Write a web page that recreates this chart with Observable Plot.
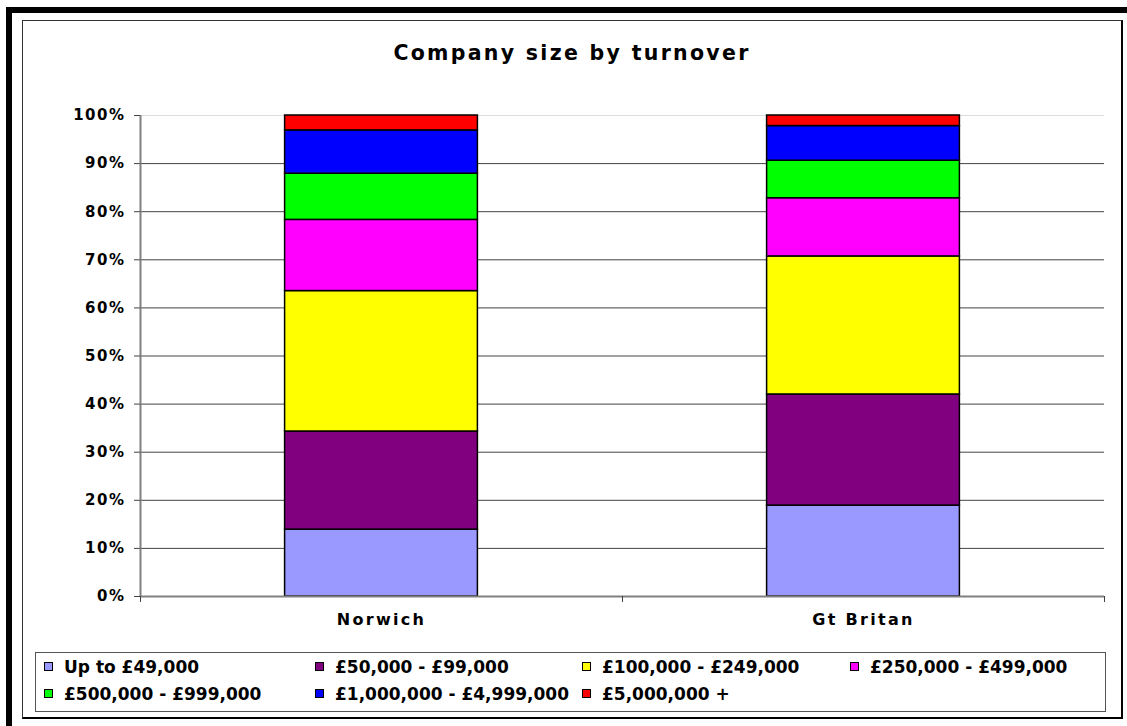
<!DOCTYPE html>
<html>
<head>
<meta charset="utf-8">
<script src="https://cdn.jsdelivr.net/npm/d3@7"></script>
<script src="https://cdn.jsdelivr.net/npm/@observablehq/plot@0.6"></script>
<style>
  body { margin: 0; background: #fff; width: 1127px; height: 726px; overflow: hidden; position: relative;
         font-family: "DejaVu Sans", sans-serif; font-weight: bold; color: #000; }
  #thick { position: absolute; left: 6px; top: 7px; width: 1300px; height: 900px;
           border-top: 6px solid #000; border-left: 6px solid #000; }
  #frame { position: absolute; left: 22px; top: 20px; width: 1098px; height: 696px;
           border: 1px solid #333; border-right: 2px solid #000; border-bottom: 2px solid #000; background: #fff; }
  #title { position: absolute; left: 22px; width: 1100px; top: 41px; line-height: 24px; text-align: center;
           font-size: 20.5px; letter-spacing: 2.3px; }
  #chart { position: absolute; left: 0; top: 0; }
  #legend { position: absolute; left: 35px; top: 652px; width: 1061px; height: 58px; border: 1px solid #555;
            padding-left: 8px; display: grid; grid-template-columns: 271px 267px 268px 268px;
            grid-auto-rows: 27px; font-size: 17px; }
  .item { display: flex; align-items: center; white-space: nowrap; }
  .sw { width: 7px; height: 7px; border: 1px solid #000; margin-right: 11px; flex: none; }
  g[aria-label="y-axis tick label"] text { letter-spacing: 1.5px; }
  g[aria-label="x-axis tick label"] text { letter-spacing: 2.3px; }
</style>
</head>
<body>
<div id="thick"></div>
<div id="frame"></div>
<div id="title">Company size by turnover</div>
<div id="chart"></div>
<div id="legend"></div>
<script>
const categories = ["Norwich", "Gt Britan"];
const bands = ["Up to £49,000", "£50,000 - £99,000", "£100,000 - £249,000", "£250,000 - £499,000",
               "£500,000 - £999,000", "£1,000,000 - £4,999,000", "£5,000,000 +"];
const colors = ["#9999FF", "#800080", "#FFFF00", "#FF00FF", "#00FF00", "#0000FF", "#FF0000"];
const norwich = [13.9, 20.4, 29.2, 14.8, 9.6, 9.0, 3.1];
const gtBritan = [18.9, 23.1, 28.7, 12.1, 7.8, 7.2, 2.2];
const yTicks = [0, 10, 20, 30, 40, 50, 60, 70, 80, 90, 100];

const series = [norwich, gtBritan];
const barInset = 0.3; // fraction of category slot left empty on each side

const rows = [];
series.forEach((vals, i) => {
  const cum = d3.cumsum(vals);
  vals.forEach((v, j) => {
    rows.push({place: categories[i], band: bands[j], i, y1: cum[j] - v, y2: cum[j]});
  });
});

const chart = Plot.plot({
  width: 1127,
  height: 640,
  marginLeft: 140,
  marginRight: 23,
  marginTop: 115,
  marginBottom: 44,
  x: {domain: [0, categories.length]},
  y: {domain: [0, 100]},
  color: {domain: bands, range: colors},
  style: {fontFamily: "DejaVu Sans", fontWeight: "bold", background: "transparent", color: "#000", overflow: "visible"},
  marks: [
    Plot.ruleY(yTicks.filter(t => t > 0 && t < 100), {stroke: "#444", strokeWidth: 1}),
    Plot.ruleY([100], {stroke: "#ddd", strokeWidth: 1}),
    Plot.rectY(rows, {
      x1: d => d.i + barInset, x2: d => d.i + 1 - barInset,
      y1: "y1", y2: "y2", fill: "band", stroke: "#000", strokeWidth: 1.5
    }),
    Plot.ruleX([0], {stroke: "#808080", strokeWidth: 2}),
    Plot.ruleY([0], {stroke: "#808080", strokeWidth: 2}),
    Plot.axisY({ticks: yTicks, tickFormat: d => d + "%", tickSize: 6, tickPadding: 9,
                fontSize: 15, stroke: "#404040"}),
    Plot.axisX({ticks: d3.range(categories.length + 1), tickFormat: () => "", tickSize: 6, stroke: "#404040"}),
    Plot.axisX({ticks: categories.map((_, i) => i + 0.5), tickFormat: d => categories[Math.floor(d)],
                tickSize: 0, tickPadding: 17, fontSize: 16})
  ]
});
document.getElementById("chart").appendChild(chart);

const legend = document.getElementById("legend");
bands.forEach((b, j) => {
  const item = document.createElement("div");
  item.className = "item";
  const sw = document.createElement("span");
  sw.className = "sw";
  sw.style.background = colors[j];
  const t = document.createElement("span");
  t.textContent = b;
  item.appendChild(sw);
  item.appendChild(t);
  legend.appendChild(item);
});
</script>
</body>
</html>
